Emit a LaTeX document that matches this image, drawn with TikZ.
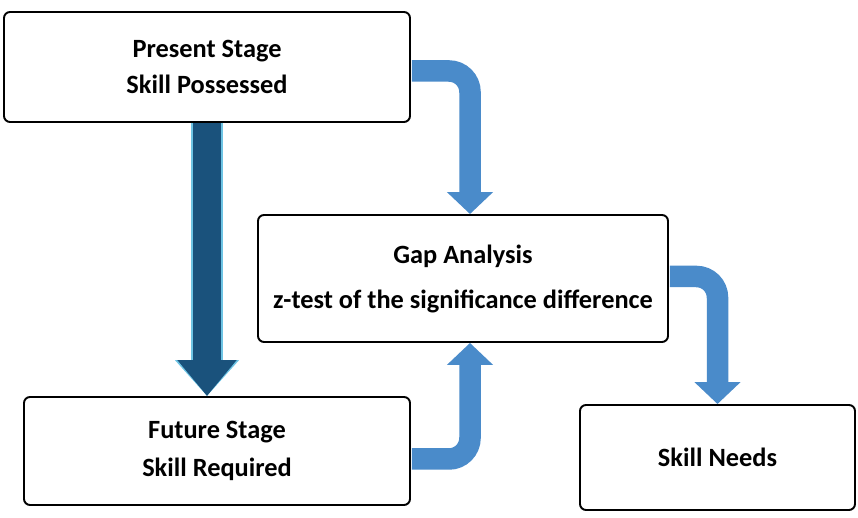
\documentclass[tikz,border=0pt]{standalone}
\usepackage{fontspec}
\setmainfont{Carlito}
\usetikzlibrary{arrows.meta}
\definecolor{flowblue}{RGB}{74,139,202}
\definecolor{darkblue}{RGB}{26,82,124}
\definecolor{glowblue}{RGB}{110,196,228}

\begin{document}
\begin{tikzpicture}[>=latex,
    stagebox/.style={draw=black,line width=1.1pt,rounded corners=0.12cm,fill=white,
      align=center,font=\bfseries\fontsize{15}{20}\selectfont},
    bendarrow/.style={draw=flowblue,line width=0.43cm,rounded corners=0.42cm,
      -{Triangle[width=0.9cm,length=0.44cm]}},
    mainarrow/.style={draw=darkblue,line width=0.56cm,
      -{Triangle[width=1.14cm,length=0.72cm]},
      preaction={draw=glowblue,line width=0.64cm,-{Triangle[width=1.24cm,length=0.72cm]}}}]
    \useasboundingbox (0,0) rectangle (17.16,10.36);
    % stages
    \node[stagebox,minimum width=8.12cm,minimum height=2.2cm] (present) at (4.14,9.02)
      {Present Stage\\Skill Possessed};
    \node[stagebox,minimum width=8.2cm,minimum height=2.54cm,
      font=\bfseries\fontsize{15}{25.6}\selectfont] (gap) at (9.26,4.79)
      {Gap Analysis\\z-test of the significance difference};
    \node[stagebox,minimum width=7.72cm,minimum height=2.16cm,
      font=\bfseries\fontsize{15}{21.6}\selectfont] (future) at (4.34,1.34)
      {Future Stage\\Skill Required};
    \node[stagebox,minimum width=5.5cm,minimum height=2.1cm] (needs) at (14.35,1.21)
      {Skill Needs};
    % arrows
    \draw[mainarrow] (present.south) -- (present.south |- future.north);
    \draw[bendarrow] ([xshift=0.02cm,yshift=-0.08cm]present.east) -| ([xshift=0.14cm]gap.north);
    \draw[bendarrow] ([xshift=0.02cm,yshift=-0.16cm]future.east) -| ([xshift=0.14cm]gap.south);
    \draw[bendarrow] ([xshift=0.02cm,yshift=0.04cm]gap.east) -| (needs.north);
  \end{tikzpicture}
\end{document}
